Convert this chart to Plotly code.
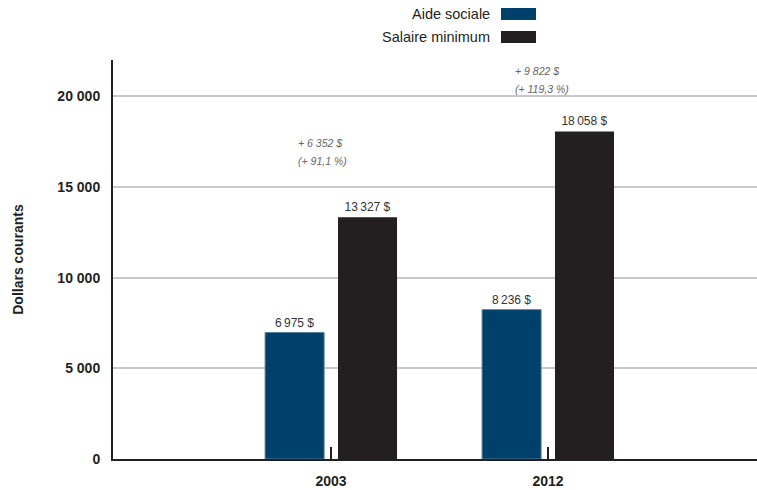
import plotly.graph_objects as go

# Data
years = ["2003", "2012"]
aide_sociale = [6975, 8236]
salaire_minimum = [13327, 18058]
hausse_dollars = ["+ 6 352 $", "+ 9 822 $"]
hausse_pct = ["(+ 91,1 %)", "(+ 119,3 %)"]
y_ticks = [0, 5000, 10000, 15000, 20000]
y_tick_labels = ["0", "5 000", "10 000", "15 000", "20 000"]

BLUE = "#00416b"
DARK = "#231f20"
FONT = "Liberation Sans, Arial, sans-serif"

# Vertical placement (axis units) of the two-line increase notes per group
NOTE_Y = [17400, 21380]
NOTE_LINE_GAP = 990


def fmt(v):
    s = f"{v:,}".replace(",", "\u2009")
    return s + " $"


xpos = list(range(len(years)))
bar_w = 0.272

fig = go.Figure()
fig.add_trace(go.Bar(
    x=xpos, y=aide_sociale, name="Aide sociale",
    marker=dict(color=BLUE, line=dict(color="#5a7f9c", width=1)),
    width=bar_w, offset=-0.304,
    text=[fmt(v) for v in aide_sociale], textposition="outside",
    textfont=dict(family=FONT, size=12, color="#333333"),
    cliponaxis=False, showlegend=False,
))
fig.add_trace(go.Bar(
    x=xpos, y=salaire_minimum, name="Salaire minimum",
    marker=dict(color=DARK, line=dict(width=0)),
    width=bar_w, offset=0.032,
    text=[fmt(v) for v in salaire_minimum], textposition="outside",
    textfont=dict(family=FONT, size=12, color="#333333"),
    cliponaxis=False, showlegend=False,
))

# Increase notes above each group
for i, (d, p) in enumerate(zip(hausse_dollars, hausse_pct)):
    fig.add_annotation(x=i - 0.162, y=NOTE_Y[i], text=d, showarrow=False,
                       xanchor="left", yanchor="middle",
                       font=dict(family=FONT, size=10.5, color="#666666", style="italic"))
    fig.add_annotation(x=i - 0.162, y=NOTE_Y[i] - NOTE_LINE_GAP, text=p, showarrow=False,
                       xanchor="left", yanchor="middle",
                       font=dict(family=FONT, size=10.5, color="#666666", style="italic"))

# Legend: label on the left, swatch on the right
legend_items = [("Aide sociale", BLUE), ("Salaire minimum", DARK)]
for k, (label, color) in enumerate(legend_items):
    yc = 14 + 23 * k
    fig.add_annotation(xref="paper", yref="paper", x=(492 - 113) / 644,
                       y=1 + (60 - yc) / 399,
                       text=label, showarrow=False, xanchor="right", yanchor="middle",
                       font=dict(family=FONT, size=14.5, color="#231f20"))
    fig.add_shape(type="rect", xref="paper", yref="paper",
                  x0=(501 - 113) / 644, x1=(536 - 113) / 644,
                  y0=1 + (60 - yc - 6) / 399, y1=1 + (60 - yc + 6) / 399,
                  fillcolor=color, line=dict(width=0))

fig.update_layout(
    width=757, height=490,
    margin=dict(l=113, r=0, t=60, b=31),
    paper_bgcolor="white", plot_bgcolor="white",
    barmode="overlay",
    font=dict(family=FONT, color=DARK),
    xaxis=dict(
        range=[-1.005, 1.963], tickvals=xpos, ticktext=years,
        ticks="inside", ticklen=12, tickwidth=2, tickcolor=DARK,
        showline=True, linecolor=DARK, linewidth=2,
        showgrid=False, zeroline=False,
        tickfont=dict(family=FONT, size=14, color=DARK, weight="bold"),
        ticklabelstandoff=8,
    ),
    yaxis=dict(
        range=[0, 22000], tickvals=y_ticks, ticktext=y_tick_labels,
        showline=True, linecolor=DARK, linewidth=2,
        showgrid=True, gridcolor="#c8c8c8", gridwidth=1.5,
        zeroline=False, ticks="",
        tickfont=dict(family=FONT, size=14, color=DARK, weight="bold"),
        ticklabelstandoff=8,
        title=dict(text="Dollars courants", standoff=30,
                   font=dict(family=FONT, size=14, color=DARK, weight="bold")),
    ),
)

fig.write_html("out.html")
